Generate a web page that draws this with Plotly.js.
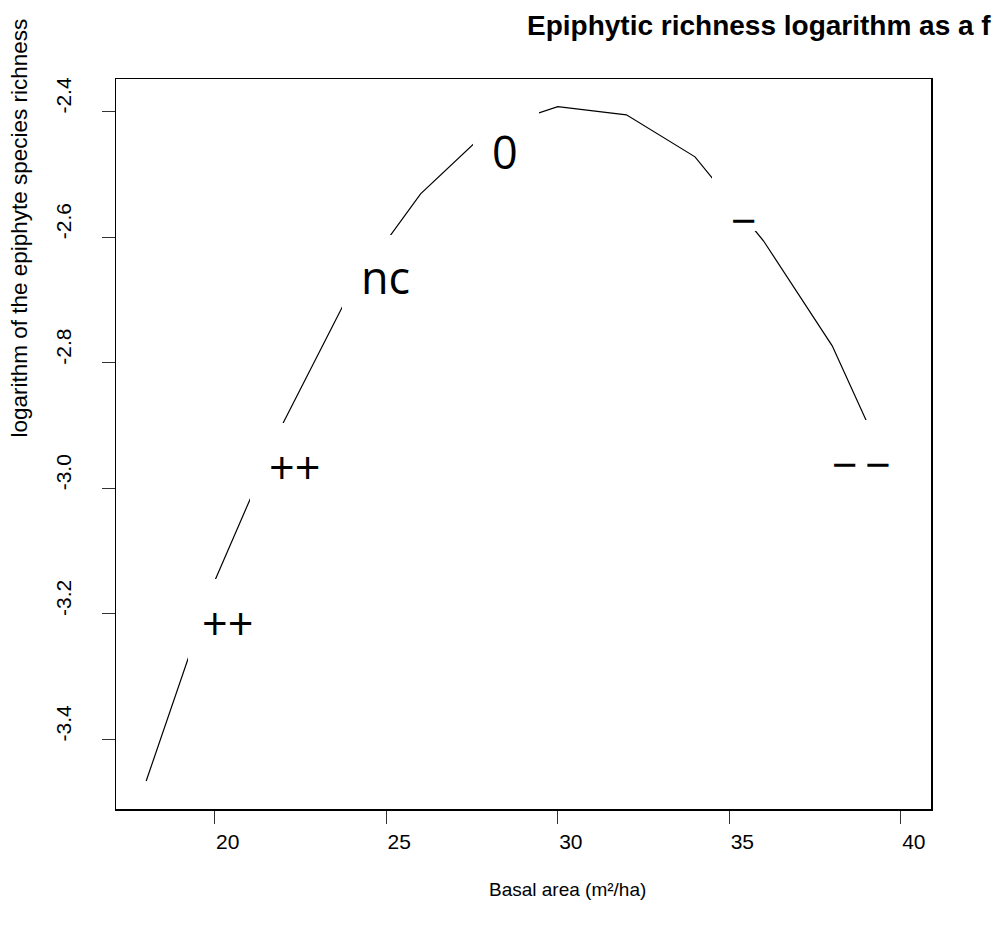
<!DOCTYPE html>
<html>
<head>
<meta charset="utf-8">
<script src="https://cdn.plot.ly/plotly-3.0.1.min.js"></script>
<style>
  html, body { margin: 0; padding: 0; background: #ffffff; overflow: hidden; }
  #chart { width: 998px; height: 926px; }
</style>
</head>
<body>
<div id="chart"></div>
<script>
// ---- data ----
const basalArea   = [18, 20, 22, 24, 26, 28, 30, 32, 34, 36, 38, 40];
const logRichness = [-3.466, -3.147, -2.895, -2.681, -2.531, -2.428, -2.392, -2.405, -2.472, -2.606, -2.773, -3.013];

const xTickVals = [20, 25, 30, 35, 40];
const xTickText = ['20', '25', '30', '35', '40'];
const yTickVals = [-3.4, -3.2, -3.0, -2.8, -2.6, -2.4];
const yTickText = ['-3.4', '-3.2', '-3.0', '-2.8', '-2.6', '-2.4'];

const effectLabels = ['++', '++', 'nc', '0', '\u2212', '\u2212\u2009\u2212'];
const labelX = [20.38, 22.32, 24.97, 28.47, 35.42, 38.84];
const labelY = [-3.213, -2.965, -2.662, -2.464, -2.572, -2.960];

// white boxes behind the effect labels (centre in data units, size in px)
const boxX = [20.38, 22.31, 24.97, 28.49, 35.42, 38.85];
const boxY = [-3.213, -2.965, -2.667, -2.466, -2.534, -2.960];
const boxW = [80, 88, 87, 66, 64, 94];
const boxH = [86, 87, 89, 90, 71, 86];

const titleText = 'Epiphytic richness logarithm as a f';
const xTitle = 'Basal area (m\u00b2/ha)';
const yTitle = 'logarithm of the epiphyte species richness';

// ---- build ----
const tickFont = { family: 'Liberation Sans, Arial, sans-serif', size: 21, color: '#000' };

const trace = {
  x: basalArea,
  y: logRichness,
  type: 'scatter',
  mode: 'lines',
  line: { color: '#000', width: 1.2 },
  hoverinfo: 'skip',
  showlegend: false
};

const annotations = [];
for (let i = 0; i < boxX.length; i++) {
  annotations.push({
    x: boxX[i], y: boxY[i], xref: 'x', yref: 'y',
    text: ' ', showarrow: false,
    width: boxW[i], height: boxH[i],
    bgcolor: '#ffffff', borderpad: 0, borderwidth: 0,
    xanchor: 'center', yanchor: 'middle'
  });
}
for (let i = 0; i < effectLabels.length; i++) {
  annotations.push({
    x: labelX[i], y: labelY[i], xref: 'x', yref: 'y',
    text: effectLabels[i], showarrow: false,
    font: { family: 'Open Sans, Noto Sans, sans-serif', size: 45, color: '#000' },
    xanchor: 'center', yanchor: 'middle'
  });
}
annotations.push({
  x: 0.5018, y: 1.073, xref: 'paper', yref: 'paper',
  text: '<b>' + titleText + '</b>', showarrow: false,
  xanchor: 'left', yanchor: 'middle',
  font: { family: 'Liberation Sans, Arial, sans-serif', size: 28, color: '#000' }
});
annotations.push({
  x: 0.5546, y: -0.110, xref: 'paper', yref: 'paper',
  text: xTitle, showarrow: false,
  xanchor: 'center', yanchor: 'middle',
  font: { family: 'Liberation Sans, Arial, sans-serif', size: 19, color: '#000' }
});
annotations.push({
  x: -0.1178, y: 0.7964, xref: 'paper', yref: 'paper',
  text: yTitle, showarrow: false, textangle: -90,
  xanchor: 'center', yanchor: 'middle',
  font: { family: 'Liberation Sans, Arial, sans-serif', size: 22.5, color: '#000' }
});

const layout = {
  width: 998,
  height: 926,
  paper_bgcolor: '#ffffff',
  plot_bgcolor: '#ffffff',
  margin: { l: 116, r: 67, t: 79, b: 117, pad: 0 },
  showlegend: false,
  xaxis: {
    range: [17.12, 40.88],
    tickmode: 'array', tickvals: xTickVals, ticktext: xTickText,
    ticks: 'outside', ticklen: 13, tickwidth: 1, tickcolor: '#333',
    showline: true, linecolor: '#000', linewidth: 1.5, mirror: true,
    showgrid: false, zeroline: false,
    tickfont: tickFont,
    ticklabelshift: 13,
    ticklabelstandoff: 0
  },
  yaxis: {
    range: [-3.5106, -2.348],
    tickmode: 'array', tickvals: yTickVals, ticktext: yTickText,
    ticks: 'outside', ticklen: 13, tickwidth: 1, tickcolor: '#333',
    showline: true, linecolor: '#000', linewidth: 1.5, mirror: true,
    showgrid: false, zeroline: false,
    tickfont: tickFont,
    tickangle: -90,
    ticklabelshift: -13,
    ticklabelstandoff: 22
  },
  annotations: annotations
};

Plotly.newPlot('chart', [trace], layout, { displayModeBar: false, staticPlot: true });
</script>
</body>
</html>
